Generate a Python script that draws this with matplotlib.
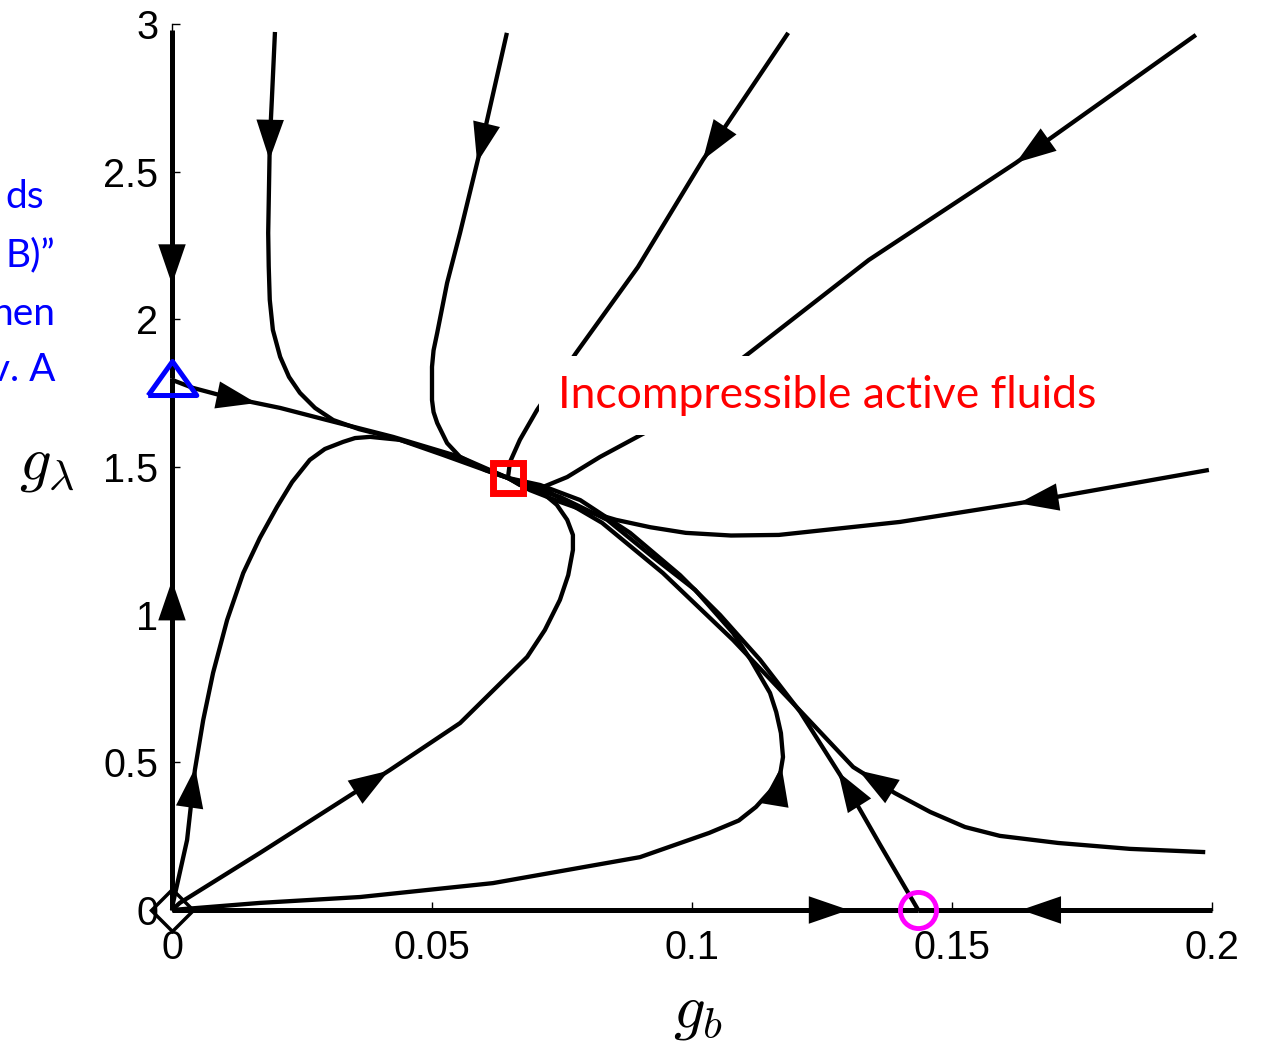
import numpy as np
import matplotlib
matplotlib.use("Agg")
import matplotlib.pyplot as plt

# fixed points (g_b, g_lambda)
fp_triangle = (0.0, 1.80)
fp_square = (0.0646, 1.463)
fp_circle = (0.1435, 0.0)
fp_origin = (0.0, 0.0)

# flow lines, listed in the direction of the flow
axis_top_gb = [0.0, 0.0]
axis_top_gl = [2.98, 1.80]
axis_low_gb = [0.0, 0.0]
axis_low_gl = [0.0, 1.80]
base_left_gb = [0.0, 0.1435]
base_left_gl = [0.0, 0.0]
base_right_gb = [0.2, 0.1435]
base_right_gl = [0.0, 0.0]

tri_sq_gb = [0.0, 0.0040, 0.0106, 0.0208, 0.0298, 0.0425, 0.0554, 0.0646]
tri_sq_gl = [1.795, 1.768, 1.737, 1.700, 1.659, 1.602, 1.534, 1.463]

top1_gb = [0.0198, 0.0192, 0.0188, 0.0185, 0.0186, 0.0188, 0.0194, 0.0208, 0.0225, 0.0246, 0.0275,
           0.0310, 0.0360, 0.0419, 0.0535, 0.0646]
top1_gl = [2.973, 2.743, 2.597, 2.293, 2.180, 2.066, 1.964, 1.873, 1.805, 1.751, 1.700,
           1.659, 1.628, 1.602, 1.541, 1.463]

top2_gb = [0.0644, 0.0596, 0.0554, 0.0529, 0.0510, 0.0503, 0.0500, 0.0500, 0.0503, 0.0510, 0.0529,
           0.0554, 0.0602, 0.0646]
top2_gl = [2.970, 2.597, 2.293, 2.123, 1.954, 1.895, 1.839, 1.727, 1.686, 1.649, 1.581,
           1.534, 1.490, 1.463]

top3_gb = [0.1185, 0.1021, 0.0896, 0.0777, 0.0702, 0.0669, 0.0650, 0.0646]
top3_gl = [2.970, 2.540, 2.177, 1.886, 1.693, 1.592, 1.517, 1.463]

top4_gb = [0.1969, 0.1623, 0.1340, 0.1113, 0.1015, 0.0919, 0.0823, 0.0760, 0.0713, 0.0669, 0.0646]
top4_gl = [2.963, 2.530, 2.201, 1.890, 1.758, 1.625, 1.534, 1.466, 1.432, 1.439, 1.463]

right1_gb = [0.1994, 0.1667, 0.1400, 0.1167, 0.1075, 0.0988, 0.0920, 0.0854, 0.0796, 0.0746,
             0.0688, 0.0646]
right1_gl = [1.490, 1.388, 1.314, 1.270, 1.268, 1.277, 1.296, 1.321, 1.351, 1.382,
             1.422, 1.463]

right2_gb = [0.1987, 0.1842, 0.1704, 0.1592, 0.1525, 0.1458, 0.1390, 0.1310, 0.1212, 0.1079,
             0.0944, 0.0827, 0.0719, 0.0646]
right2_gl = [0.196, 0.207, 0.227, 0.251, 0.281, 0.332, 0.396, 0.484, 0.667, 0.914,
             1.141, 1.311, 1.422, 1.463]

circ_sq_gb = [0.1435, 0.1362, 0.1285, 0.1208, 0.1131, 0.1054, 0.0977, 0.0881, 0.0785, 0.0708, 0.0646]
circ_sq_gl = [0.0, 0.220, 0.457, 0.671, 0.847, 0.999, 1.134, 1.277, 1.388, 1.439, 1.463]

loop_low_gb = [0.0, 0.0169, 0.0362, 0.0617, 0.0900, 0.1033, 0.1090, 0.1123, 0.1158, 0.1170, 0.1175,
               0.1171, 0.1162, 0.1150, 0.1113, 0.1079, 0.1006, 0.0925, 0.0837, 0.0746, 0.0685, 0.0646]
loop_low_gl = [0.0, 0.024, 0.044, 0.091, 0.179, 0.261, 0.303, 0.349, 0.417, 0.465, 0.518,
               0.599, 0.670, 0.735, 0.847, 0.938, 1.084, 1.195, 1.321, 1.399, 1.432, 1.463]

loop_mid_gb = [0.0, 0.0015, 0.0169, 0.0419, 0.0554, 0.0683, 0.0717, 0.0746, 0.0762, 0.0771, 0.0771,
               0.0760, 0.0740, 0.0713, 0.0683, 0.0646]
loop_mid_gl = [0.0, 0.024, 0.193, 0.474, 0.633, 0.857, 0.948, 1.050, 1.134, 1.219, 1.270,
               1.321, 1.372, 1.412, 1.432, 1.463]

loop_high_gb = [0.0, 0.0002, 0.0029, 0.0044, 0.0060, 0.0079, 0.0106, 0.0137, 0.0169, 0.0202,
                0.0231, 0.0265, 0.0294, 0.0329, 0.0352, 0.0381, 0.0438, 0.0521, 0.0617, 0.0646]
loop_high_gl = [0.0, 0.024, 0.237, 0.474, 0.643, 0.803, 0.982, 1.141, 1.260, 1.365,
                1.449, 1.524, 1.561, 1.585, 1.598, 1.602, 1.592, 1.541, 1.480, 1.463]

# (curve, arrow tip position as fraction of its length on screen)
flows = [
    (axis_top_gb, axis_top_gl, 0.73),
    (axis_low_gb, axis_low_gl, 0.62),
    (base_left_gb, base_left_gl, 0.907),
    (base_right_gb, base_right_gl, 0.65),
    (tri_sq_gb, tri_sq_gl, 0.25),
    (top1_gb, top1_gl, 0.215),
    (top2_gb, top2_gl, 0.27),
    (top3_gb, top3_gl, 0.29),
    (top4_gb, top4_gl, 0.265),
    (right1_gb, right1_gl, 0.27),
    (right2_gb, right2_gl, 0.44),
    (circ_sq_gb, circ_sq_gl, 0.26),
    (loop_low_gb, loop_low_gl, 0.605),
    (loop_mid_gb, loop_mid_gl, 0.39),
    (loop_high_gb, loop_high_gl, 0.21),
]

x_ticks = [0, 0.05, 0.1, 0.15, 0.2]
x_labels = ['0', '0.05', '0.1', '0.15', '0.2']
y_ticks = [0, 0.5, 1, 1.5, 2, 2.5, 3]
y_labels = ['0', '0.5', '1', '1.5', '2', '2.5', '3']

side_text = ['ds', 'B)\u201d', 'hen', 'v. A']

W, H = 1261, 1041
fig = plt.figure(figsize=(W / 100, H / 100), dpi=100)
ax = fig.add_axes([172 / W, 131 / H, 1040 / W, 886 / H])
ax.set_xlim(0, 0.2)
ax.set_ylim(0, 3)

for s in ['top', 'right']:
    ax.spines[s].set_visible(False)
for s in ['left', 'bottom']:
    ax.spines[s].set_linewidth(1)

ax.set_xticks(x_ticks)
ax.set_xticklabels(x_labels)
ax.set_yticks(y_ticks)
ax.set_yticklabels(y_labels)
ax.tick_params(direction='in', length=6, width=1, labelsize=28.5)
ax.tick_params(axis='x', pad=14)
ax.tick_params(axis='y', pad=10)
for lab in ax.get_xticklabels() + ax.get_yticklabels():
    lab.set_fontfamily('Liberation Sans')


def add_arrow(xs, ys, frac):
    pts = ax.transData.transform(np.column_stack([xs, ys]))
    seg = np.hypot(np.diff(pts[:, 0]), np.diff(pts[:, 1]))
    s = np.concatenate([[0], np.cumsum(seg)])
    t = frac * s[-1]
    tip = (np.interp(t, s, pts[:, 0]), np.interp(t, s, pts[:, 1]))
    back = (np.interp(t - 4, s, pts[:, 0]), np.interp(t - 4, s, pts[:, 1]))
    inv = ax.transData.inverted()
    ax.annotate('', xy=inv.transform(tip), xytext=inv.transform(back),
                arrowprops=dict(arrowstyle='-|>,head_length=1.6,head_width=0.55',
                                mutation_scale=18, color='k', lw=0,
                                shrinkA=0, shrinkB=0),
                annotation_clip=False, zorder=4)


for i, (xs, ys, frac) in enumerate(flows):
    lw = 3.6 if i < 4 else 3.1
    ax.plot(xs, ys, color='k', lw=lw, solid_capstyle='butt', solid_joinstyle='round',
            clip_on=False, zorder=3)
    add_arrow(xs, ys, frac)

tri = [(-1, -0.7), (1, -0.7), (0, 0.7), (-1, -0.7)]
ax.plot(*fp_triangle, marker=tri, ms=35, mfc='none', mec='#0000ff', mew=3.6, clip_on=False, zorder=6)
ax.plot(*fp_square, marker='s', ms=21, mfc='none', mec='#ff0000', mew=5, clip_on=False, zorder=6)
ax.plot(*fp_circle, marker='o', ms=26, mfc='none', mec='#ff00ff', mew=3.5, clip_on=False, zorder=6)
ax.plot(*fp_origin, marker='D', ms=21, mfc='none', mec='k', mew=2.5, clip_on=False, zorder=6)

ax.text(0.0742, 1.70, 'Incompressible active fluids', color='#ff0000', fontsize=32,
        family='Lato', va='baseline', ha='left', zorder=5,
        bbox=dict(boxstyle='square,pad=0.42', fc='white', ec='none'))

fig.text(698 / W, 1 - 1012 / H, r'$g_b$', fontsize=45, ha='center', va='center',
         math_fontfamily='cm')
fig.text(47 / W, 1 - 464 / H, r'$g_\lambda$', fontsize=45, ha='center', va='center',
         math_fontfamily='cm')

side_right = [44, 55, 55, 55]
side_base = [208, 266, 325, 381]
for txt, xr, yb in zip(side_text, side_right, side_base):
    fig.text(xr / W, 1 - yb / H, txt, color='#0000ff', fontsize=28, family='Lato',
             ha='right', va='baseline')

fig.savefig('out.png', dpi=100)
